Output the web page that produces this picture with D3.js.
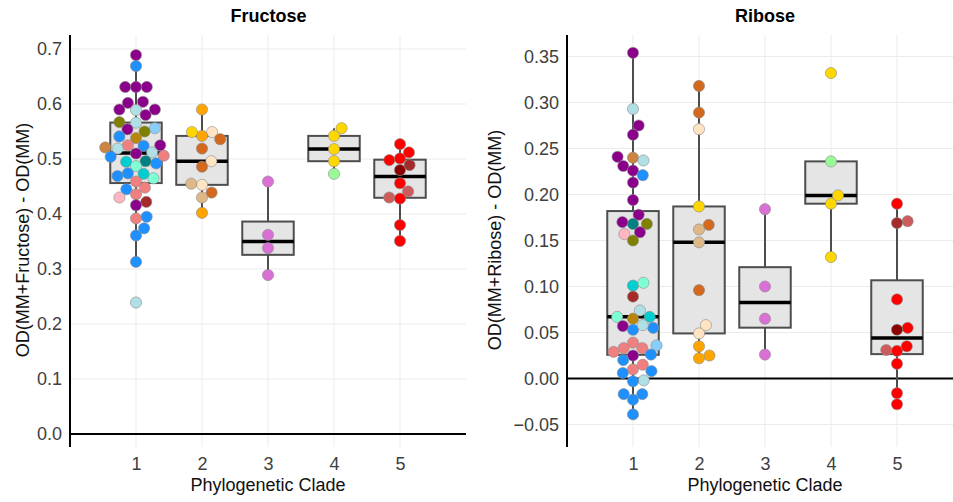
<!DOCTYPE html>
<html>
<head>
<meta charset="utf-8">
<script src="https://cdn.jsdelivr.net/npm/d3@7"></script>
<style>
  body { margin: 0; background: #fff; }
  svg { display: block; font-family: "Liberation Sans", Arial, sans-serif; }
  .tick text { fill: #404040; font-size: 18px; }
</style>
</head>
<body>
<div id="chart"></div>
<script>
const clades = [1, 2, 3, 4, 5];

// [value, strain colour]
const fructose1 = [[0.689,"darkmagenta"],[0.669,"dodgerblue"],[0.631,"darkmagenta"],[0.631,"darkmagenta"],[0.631,"darkmagenta"],[0.602,"darkmagenta"],[0.604,"darkmagenta"],[0.590,"darkmagenta"],[0.589,"powderblue"],[0.590,"darkmagenta"],[0.580,"darkmagenta"],[0.566,"powderblue"],[0.567,"olive"],[0.556,"lightskyblue"],[0.550,"olive"],[0.554,"darkmagenta"],[0.538,"darkgoldenrod"],[0.541,"dodgerblue"],[0.525,"lightcoral"],[0.521,"peru"],[0.519,"powderblue"],[0.524,"dodgerblue"],[0.525,"darkmagenta"],[0.512,"powderblue"],[0.510,"darkmagenta"],[0.506,"lightcoral"],[0.504,"dodgerblue"],[0.492,"dodgerblue"],[0.495,"darkturquoise"],[0.496,"teal"],[0.487,"aquamarine"],[0.474,"dodgerblue"],[0.465,"aquamarine"],[0.469,"dodgerblue"],[0.473,"darkturquoise"],[0.459,"lightcoral"],[0.445,"dodgerblue"],[0.448,"lightcoral"],[0.436,"lightcoral"],[0.430,"lightpink"],[0.422,"brown"],[0.416,"darkmagenta"],[0.392,"lightcoral"],[0.395,"dodgerblue"],[0.374,"dodgerblue"],[0.361,"dodgerblue"],[0.313,"dodgerblue"],[0.239,"powderblue"]];
const fructose2 = [[0.590,"orange"],[0.549,"bisque"],[0.536,"chocolate"],[0.542,"orange"],[0.549,"gold"],[0.519,"chocolate"],[0.496,"bisque"],[0.486,"chocolate"],[0.453,"bisque"],[0.455,"burlywood"],[0.439,"chocolate"],[0.430,"burlywood"],[0.402,"orange"]];
const fructose3 = [[0.459,"orchid"],[0.362,"orchid"],[0.338,"orchid"],[0.289,"orchid"]];
const fructose4 = [[0.556,"gold"],[0.542,"gold"],[0.518,"gold"],[0.496,"gold"],[0.473,"palegreen"]];
const fructose5 = [[0.527,"red"],[0.512,"red"],[0.498,"red"],[0.501,"red"],[0.489,"brown"],[0.480,"darkred"],[0.456,"red"],[0.441,"indianred"],[0.430,"indianred"],[0.428,"red"],[0.380,"red"],[0.351,"red"]];

const ribose1 = [[0.354,"darkmagenta"],[0.293,"powderblue"],[0.275,"darkmagenta"],[0.265,"darkmagenta"],[0.240,"peru"],[0.237,"powderblue"],[0.241,"darkmagenta"],[0.231,"darkmagenta"],[0.226,"darkmagenta"],[0.221,"dodgerblue"],[0.213,"darkmagenta"],[0.194,"darkmagenta"],[0.178,"darkmagenta"],[0.168,"teal"],[0.168,"olive"],[0.170,"darkmagenta"],[0.159,"darkmagenta"],[0.157,"lightpink"],[0.150,"olive"],[0.101,"darkturquoise"],[0.104,"aquamarine"],[0.089,"brown"],[0.074,"powderblue"],[0.067,"aquamarine"],[0.067,"darkturquoise"],[0.065,"darkgoldenrod"],[0.055,"dodgerblue"],[0.053,"dodgerblue"],[0.057,"darkmagenta"],[0.058,"powderblue"],[0.036,"lightskyblue"],[0.029,"lightcoral"],[0.033,"lightcoral"],[0.039,"lightcoral"],[0.033,"lightcoral"],[0.025,"darkmagenta"],[0.026,"dodgerblue"],[0.020,"dodgerblue"],[0.010,"lightcoral"],[0.015,"lightcoral"],[0.008,"dodgerblue"],[0.006,"dodgerblue"],[-0.002,"powderblue"],[-0.003,"dodgerblue"],[-0.017,"dodgerblue"],[-0.023,"dodgerblue"],[-0.017,"dodgerblue"],[-0.039,"dodgerblue"]];
const ribose2 = [[0.318,"chocolate"],[0.289,"chocolate"],[0.271,"bisque"],[0.187,"gold"],[0.167,"chocolate"],[0.162,"burlywood"],[0.148,"burlywood"],[0.096,"chocolate"],[0.058,"bisque"],[0.049,"bisque"],[0.035,"orange"],[0.025,"orange"],[0.022,"orange"]];
const ribose3 = [[0.184,"orchid"],[0.100,"orchid"],[0.065,"orchid"],[0.026,"orchid"]];
const ribose4 = [[0.332,"gold"],[0.236,"palegreen"],[0.199,"gold"],[0.190,"gold"],[0.132,"gold"]];
const ribose5 = [[0.190,"red"],[0.171,"indianred"],[0.169,"brown"],[0.086,"red"],[0.055,"red"],[0.053,"darkred"],[0.031,"indianred"],[0.030,"red"],[0.035,"red"],[0.016,"red"],[-0.016,"red"],[-0.028,"red"]];

const fructoseTicks = [0, 0.1, 0.2, 0.3, 0.4, 0.5, 0.6, 0.7];
const riboseTicks = [-0.05, 0, 0.05, 0.1, 0.15, 0.2, 0.25, 0.3, 0.35];


function boxStats(vals) {
    const s = vals.slice().sort(d3.ascending);
    const q1 = d3.quantileSorted(s, 0.25);
    const med = d3.quantileSorted(s, 0.5);
    const q3 = d3.quantileSorted(s, 0.75);
    const iqr = q3 - q1;
    const lo = d3.min(s.filter(v => v >= q1 - 1.5 * iqr));
    const hi = d3.max(s.filter(v => v <= q3 + 1.5 * iqr));
    return {q1, med, q3, lo, hi};
}

// best free offset for a point at pixel height y, given already placed points
function bestOffset(y, placed, d) {
    const near = placed.filter(p => Math.abs(p.y - y) < d);
    const cands = [0];
    near.forEach(p => {
        const dx = Math.sqrt(d * d - (p.y - y) * (p.y - y));
        cands.push(p.x + dx, p.x - dx);
    });
    cands.sort((a, b) => Math.abs(a) - Math.abs(b) || b - a);
    return cands.find(c => near.every(p => (c - p.x) ** 2 + (p.y - y) ** 2 >= d * d - 0.01));
}

// compact swarm: always place next the point that fits closest to the centre
function swarm(ys, d) {
    const left = ys.map((y, i) => i).sort((a, b) => ys[b] - ys[a]);
    const placed = [];
    const off = [];
    while (left.length) {
        let bi = 0, bx = null;
        left.forEach((i, k) => {
            const x = bestOffset(ys[i], placed, d);
            if (bx === null || Math.abs(x) < Math.abs(bx) - 1e-6) { bi = k; bx = x; }
        });
        const i = left.splice(bi, 1)[0];
        off[i] = bx;
        placed.push({x: bx, y: ys[i]});
    }
    return off;
}


class Panel {
    constructor(svg, opts) {
        this.svg = svg;
        this.o = opts;
        this.xScale = d3.scaleLinear().domain([0, 6]).range(opts.xRange);
        this.yScale = d3.scaleLinear().domain([0, opts.ticks[opts.ticks.length - 1]]).range(opts.yRange);
        this.top = 35;
        this.bottom = 447;
    }

    renderGrid() {
        const g = this.svg.append("g");
        const [x0, x1] = [this.o.xRange[0], Math.min(this.o.xRange[1], 953)];
        g.selectAll(".hg").data(this.o.ticks).enter().append("line")
            .attr("x1", x0).attr("x2", x1)
            .attr("y1", d => this.yScale(d)).attr("y2", d => this.yScale(d))
            .attr("stroke", "#ebebeb").attr("stroke-width", 1);
        g.selectAll(".vg").data(clades).enter().append("line")
            .attr("x1", d => this.xScale(d)).attr("x2", d => this.xScale(d))
            .attr("y1", this.top).attr("y2", this.bottom)
            .attr("stroke", "#ebebeb").attr("stroke-width", 1);
    }

    renderAxis() {
        const y = this.yScale;
        this.svg.append("line")
            .attr("x1", this.o.xRange[0]).attr("x2", this.o.xRange[1])
            .attr("y1", y(0)).attr("y2", y(0))
            .attr("stroke", "#000").attr("stroke-width", 2);
        this.svg.append("line")
            .attr("x1", this.o.xRange[0]).attr("x2", this.o.xRange[0])
            .attr("y1", this.top).attr("y2", this.bottom)
            .attr("stroke", "#000").attr("stroke-width", 2);

        const ay = this.svg.append("g")
            .attr("transform", "translate(" + this.o.xRange[0] + ",0)")
            .call(d3.axisLeft(y).tickValues(this.o.ticks).tickFormat(d3.format(this.o.fmt)).tickSize(0).tickPadding(8));
        ay.select(".domain").remove();
        ay.selectAll("text").attr("font-family", null).attr("font-size", null);

        const ax = this.svg.append("g")
            .attr("transform", "translate(0," + this.bottom + ")")
            .call(d3.axisBottom(this.xScale).tickValues(clades).tickFormat(d3.format("d")).tickSize(0).tickPadding(10));
        ax.select(".domain").remove();
        ax.selectAll("text").attr("font-family", null).attr("font-size", null);
    }

    renderLabels() {
        const cx = (this.o.xRange[0] + this.xScale(6)) / 2;
        this.svg.append("text")
            .attr("x", (this.o.xRange[0] + this.o.titleRight) / 2).attr("y", 22)
            .attr("text-anchor", "middle")
            .style("font-weight", "bold").style("font-size", "18px")
            .text(this.o.title);

        this.svg.append("text")
            .attr("x", cx).attr("y", 491)
            .attr("text-anchor", "middle")
            .style("font-size", "18px").style("fill", "#111")
            .text("Phylogenetic Clade");

        this.svg.append("text")
            .attr("transform", "translate(" + this.o.yTitleX + ",240) rotate(-90)")
            .attr("text-anchor", "middle")
            .style("font-size", "18px").style("fill", "#111")
            .text(this.o.yTitle);
    }

    renderBoxes() {
        const self = this;
        const hw = 0.39;
        this.o.groups.forEach((grp, i) => {
            const c = clades[i];
            const b = boxStats(grp.map(d => d[0]));
            const g = self.svg.append("g");
            g.append("line")
                .attr("x1", self.xScale(c)).attr("x2", self.xScale(c))
                .attr("y1", self.yScale(b.hi)).attr("y2", self.yScale(b.q3))
                .attr("stroke", "#4d4d4d").attr("stroke-width", 2);
            g.append("line")
                .attr("x1", self.xScale(c)).attr("x2", self.xScale(c))
                .attr("y1", self.yScale(b.q1)).attr("y2", self.yScale(b.lo))
                .attr("stroke", "#4d4d4d").attr("stroke-width", 2);
            g.append("rect")
                .attr("x", self.xScale(c - hw))
                .attr("width", self.xScale(c + hw) - self.xScale(c - hw))
                .attr("y", self.yScale(b.q3))
                .attr("height", self.yScale(b.q1) - self.yScale(b.q3))
                .attr("fill", "#e5e5e5").attr("stroke", "#4d4d4d").attr("stroke-width", 2);
            g.append("line")
                .attr("x1", self.xScale(c - hw)).attr("x2", self.xScale(c + hw))
                .attr("y1", self.yScale(b.med)).attr("y2", self.yScale(b.med))
                .attr("stroke", "#000").attr("stroke-width", 3.5);
        });
    }

    renderDots() {
        const self = this;
        this.o.groups.forEach((grp, i) => {
            const c = clades[i];
            const ys = grp.map(d => self.yScale(d[0]));
            const off = swarm(ys, 10.8);
            self.svg.append("g").selectAll("circle")
                .data(grp)
                .enter().append("circle")
                .attr("cx", (d, j) => self.xScale(c) + off[j])
                .attr("cy", (d, j) => ys[j])
                .attr("r", 5.6)
                .attr("fill", d => d[1])
                .attr("stroke", "#8c8c8c")
                .attr("stroke-width", 0.6);
        });
    }

    render() {
        this.renderGrid();
        this.renderAxis();
        this.renderBoxes();
        this.renderDots();
        this.renderLabels();
    }
}

const svg = d3.select("#chart").append("svg")
    .attr("width", 953)
    .attr("height", 502);

new Panel(svg, {
    title: "Fructose",
    yTitle: "OD(MM+Fructose) - OD(MM)",
    groups: [fructose1, fructose2, fructose3, fructose4, fructose5],
    ticks: fructoseTicks,
    fmt: ".1f",
    xRange: [70, 466],
    yRange: [434, 49],
    titleRight: 467,
    yTitleX: 29
}).render();

new Panel(svg, {
    title: "Ribose",
    yTitle: "OD(MM+Ribose) - OD(MM)",
    groups: [ribose1, ribose2, ribose3, ribose4, ribose5],
    ticks: riboseTicks,
    fmt: ".2f",
    xRange: [567, 963],
    yRange: [378.5, 56.5],
    titleRight: 963,
    yTitleX: 501
}).render();
</script>
</body>
</html>
